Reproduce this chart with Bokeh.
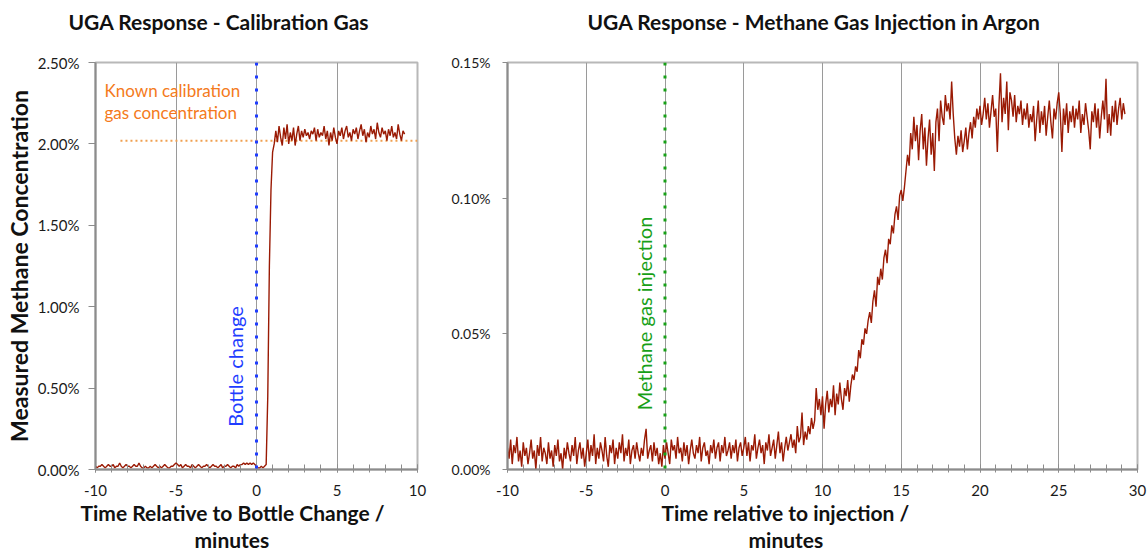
import numpy as np
from bokeh.plotting import figure
from bokeh.layouts import row
from bokeh.models import Label, Span, FixedTicker, PrintfTickFormatter, Range1d, Title
from bokeh.embed import file_html
from bokeh.resources import INLINE

# ---------------- data: left panel (calibration gas) ----------------
cal_t_start = -10.0
cal_t_step = 0.1
cal_values = [
    0.02, 0.01, 0.02, 0.02, 0.03, 0.02, 0.01, 0.02, 0.03, 0.02,
    0.02, 0.03, 0.01, 0.02, 0.02, 0.04, 0.02, 0.01, 0.02, 0.03,
    0.02, 0.02, 0.01, 0.02, 0.03, 0.02, 0.02, 0.04, 0.02, 0.01,
    0.01, 0.02, 0.01, 0.01, 0.02, 0.01, 0.02, 0.03, 0.02, 0.01,
    0.02, 0.01, 0.02, 0.03, 0.02, 0.01, 0.01, 0.02, 0.02, 0.03,
    0.04, 0.03, 0.02, 0.03, 0.01, 0.02, 0.03, 0.02, 0.02, 0.01,
    0.03, 0.02, 0.01, 0.02, 0.03, 0.02, 0.01, 0.02, 0.02, 0.03,
    0.02, 0.01, 0.02, 0.03, 0.02, 0.02, 0.01, 0.02, 0.03, 0.01,
    0.02, 0.02, 0.03, 0.02, 0.01, 0.02, 0.02, 0.01, 0.03, 0.02,
    0.03, 0.03, 0.04, 0.03, 0.04, 0.03, 0.04, 0.03, 0.04, 0.03,
    0.02, 0.01, 0.01, 0.02, 0.01, 0.02,
    0.03, 0.45, 1.25, 1.72, 1.95, 2.00,
    2.08, 2.01, 2.11, 2.04, 1.99, 2.10, 2.03, 2.12, 2.00, 2.07,
    2.02, 2.10, 1.99, 2.06, 2.11, 2.02, 2.08, 2.04, 2.09, 2.05,
    2.07, 2.03, 2.08, 2.06, 2.10, 2.02, 2.09, 2.04, 2.07, 2.05,
    2.11, 2.03, 2.08, 1.99, 2.07, 2.02, 2.10, 2.04, 2.00, 2.08,
    2.05, 2.10, 2.03, 2.08, 2.11, 2.04, 2.07, 2.02, 2.09, 2.06,
    2.10, 2.03, 2.08, 2.12, 2.05, 2.09, 2.01, 2.07, 2.04, 2.11,
    2.06, 2.09, 2.03, 2.13, 2.07, 2.04, 2.10, 2.06, 2.08, 2.02,
    2.09, 2.05, 2.11, 2.04, 2.07, 2.03, 2.12, 2.06, 2.02, 2.08,
    2.06,
]
bottle_change_time = 0.0
known_concentration = 2.02
known_line_x = [-8.45, 10.0]

# ---------------- data: right panel (methane injection) ----------------
inj_t_start = -10.0
inj_t_step = 0.1
inj_values = [
    0.008, 0.004, 0.011, 0.002, 0.009, 0.006, 0.012, 0.003, 0.007, 0.001,
    0.010, 0.005, 0.008, 0.002, 0.006, 0.011, 0.004, 0.007, 0.000, 0.009,
    0.005, 0.012, 0.003, 0.008, 0.006, 0.002, 0.010, 0.004, 0.007, 0.001,
    0.009, 0.005, 0.011, 0.003, 0.006, 0.000, 0.008, 0.004, 0.010, 0.006,
    0.003, 0.009, 0.005, 0.012, 0.002, 0.007, 0.010, 0.004, 0.008, 0.001,
    0.006, 0.011, 0.003, 0.009, 0.005, 0.013, 0.002, 0.008, 0.004, 0.010,
    0.007, 0.003, 0.012, 0.005, 0.001, 0.009, 0.006, 0.011, 0.002, 0.008,
    0.004, 0.010, 0.006, 0.013, 0.003, 0.008, 0.005, 0.011, 0.002, 0.007,
    0.009, 0.004, 0.010, 0.006, 0.003, 0.008, 0.005, 0.011, 0.015, 0.004,
    0.007, 0.009, 0.003, 0.010, 0.005, 0.008, 0.002, 0.006, 0.001, 0.009,
    0.004, 0.010, 0.006, 0.002, 0.011, 0.007, 0.009, 0.004, 0.012, 0.006,
    0.008, 0.003, 0.010, 0.005, 0.009, 0.002, 0.007, 0.011, 0.006, 0.004,
    0.009, 0.006, 0.012, 0.003, 0.008, 0.010, 0.005, 0.007, 0.002, 0.009,
    0.006, 0.011, 0.004, 0.008, 0.010, 0.003, 0.009, 0.006, 0.012, 0.005,
    0.007, 0.010, 0.004, 0.009, 0.006, 0.011, 0.003, 0.008, 0.010, 0.005,
    0.008, 0.012, 0.005, 0.010, 0.003, 0.009, 0.007, 0.013, 0.004, 0.008,
    0.011, 0.006, 0.009, 0.002, 0.010, 0.007, 0.013, 0.005, 0.008, 0.011,
    0.004, 0.009, 0.014, 0.006, 0.010, 0.003, 0.008, 0.012, 0.007, 0.010,
    0.013, 0.008, 0.011, 0.006, 0.016, 0.010, 0.012, 0.021, 0.009, 0.014,
    0.011, 0.016, 0.013, 0.019, 0.015, 0.018, 0.030, 0.022, 0.026, 0.020,
    0.027, 0.015, 0.024, 0.029, 0.021, 0.026, 0.023, 0.031, 0.020, 0.028,
    0.024, 0.032, 0.026, 0.022, 0.030, 0.027, 0.033, 0.025, 0.031, 0.035,
    0.033, 0.038, 0.036, 0.044, 0.041, 0.048, 0.046, 0.052, 0.050, 0.055,
    0.058, 0.054, 0.062, 0.066, 0.060, 0.071, 0.068, 0.074, 0.070, 0.078,
    0.081, 0.076, 0.085, 0.083, 0.090, 0.087, 0.094, 0.097, 0.092, 0.101,
    0.103, 0.099, 0.104, 0.110, 0.116, 0.112, 0.124, 0.118, 0.130, 0.121,
    0.127, 0.114, 0.125, 0.131, 0.118, 0.126, 0.112, 0.122, 0.129, 0.116,
    0.124, 0.110, 0.128, 0.133, 0.121, 0.136, 0.130, 0.127, 0.138, 0.132,
    0.135, 0.129, 0.143, 0.131, 0.122, 0.116, 0.123, 0.119, 0.125, 0.117,
    0.121, 0.126, 0.118, 0.124, 0.128, 0.122, 0.130, 0.126, 0.133, 0.129,
    0.134, 0.127, 0.131, 0.137, 0.129, 0.135, 0.126, 0.132, 0.138, 0.130,
    0.133, 0.117, 0.134, 0.146, 0.128, 0.137, 0.131, 0.143, 0.125, 0.139,
    0.136, 0.130, 0.138, 0.128, 0.134, 0.131, 0.136, 0.127, 0.133, 0.129,
    0.135, 0.126, 0.131, 0.128, 0.134, 0.121, 0.129, 0.136, 0.124, 0.132,
    0.127, 0.134, 0.123, 0.130, 0.136, 0.128, 0.122, 0.133, 0.129, 0.135,
    0.139, 0.131, 0.117, 0.133, 0.127, 0.135, 0.124, 0.132, 0.128, 0.134,
    0.126, 0.133, 0.129, 0.136, 0.124, 0.131, 0.127, 0.135, 0.130, 0.125,
    0.118, 0.132, 0.128, 0.135, 0.126, 0.133, 0.122, 0.130, 0.136, 0.129,
    0.144, 0.124, 0.131, 0.123, 0.134, 0.128, 0.136, 0.127, 0.133, 0.137,
    0.129, 0.135, 0.131,
]
injection_time = 0.0

left_x_ticks = [-10, -5, 0, 5, 10]
left_x_minor = list(range(-10, 11))
left_y_ticks = [0.0, 0.5, 1.0, 1.5, 2.0, 2.5]
right_x_ticks = [-10, -5, 0, 5, 10, 15, 20, 25, 30]
right_x_minor = list(range(-10, 31))
right_y_ticks = [0.0, 0.05, 0.10, 0.15]

cal_time = np.round(cal_t_start + cal_t_step * np.arange(len(cal_values)), 2)
inj_time = np.round(inj_t_start + inj_t_step * np.arange(len(inj_values)), 2)

FONT = "Lato"
LINE_COLOR = "#9a1a04"
AXIS_COLOR = "#8c8c8c"
GRID_COLOR = "#9a9a9a"
OUTLINE_COLOR = "#b8b8b8"
TEXT_COLOR = "#111111"


def style(p, xt, xminor, yt, ytick_size, xtick_size):
    p.xaxis.ticker = FixedTicker(ticks=xt, minor_ticks=xminor)
    p.xaxis.formatter = PrintfTickFormatter(format="%d")
    p.yaxis.ticker = FixedTicker(ticks=yt, minor_ticks=[])
    p.yaxis.formatter = PrintfTickFormatter(format="%.2f%%")
    p.xgrid.ticker = FixedTicker(ticks=xt)
    p.xgrid.grid_line_color = GRID_COLOR
    p.xgrid.grid_line_width = 1
    p.ygrid.grid_line_color = None
    for ax in (p.xaxis[0], p.yaxis[0]):
        ax.axis_line_color = AXIS_COLOR
        ax.axis_line_width = 2
        ax.major_tick_line_color = AXIS_COLOR
        ax.minor_tick_line_color = AXIS_COLOR
        ax.major_label_text_font = FONT
        ax.major_label_text_color = "#1a1a1a"
    p.xaxis.major_tick_in = 5
    p.xaxis.major_tick_out = 3
    p.xaxis.minor_tick_in = 5
    p.xaxis.minor_tick_out = 3
    p.xaxis.major_label_standoff = 12
    p.xaxis.major_label_text_font_size = xtick_size
    p.yaxis.major_tick_in = 0
    p.yaxis.major_tick_out = 7
    p.yaxis.minor_tick_in = 0
    p.yaxis.minor_tick_out = 0
    p.yaxis.major_label_standoff = 9
    p.yaxis.major_label_text_font_size = ytick_size
    p.outline_line_color = OUTLINE_COLOR
    p.outline_line_width = 2
    p.background_fill_color = "white"
    p.border_fill_color = "white"


def add_titles(p, title, title_offset, xl1, xl1_offset, xl2, xl2_offset):
    p.title.text = ""
    # blank spacer title between the frame and the real title
    p.add_layout(Title(text=" ", standoff=24, text_font_size="2px", text_color="white"), "above")
    p.add_layout(Title(text=title, align="left", offset=title_offset, vertical_align="middle",
                       standoff=0, text_font=FONT, text_font_style="bold",
                       text_font_size="21px", text_color=TEXT_COLOR), "above")
    for txt, off in ((xl1, xl1_offset), (xl2, xl2_offset)):
        p.add_layout(Title(text=txt, align="left", offset=off, vertical_align="middle",
                           standoff=0, text_font=FONT, text_font_style="bold",
                           text_font_size="21px", text_color=TEXT_COLOR), "below")


# ---------------- left figure ----------------
p1 = figure(width=448, height=552, x_range=Range1d(-10, 10), y_range=Range1d(0, 2.5),
            output_backend="svg", toolbar_location=None,
            min_border_left=95, min_border_right=31, min_border_top=62, min_border_bottom=83)
style(p1, left_x_ticks, left_x_minor, left_y_ticks, "15px", "15px")
p1.yaxis.axis_label = "Measured Methane Concentration"
p1.yaxis.axis_label_text_font = FONT
p1.yaxis.axis_label_text_font_style = "bold"
p1.yaxis.axis_label_text_font_size = "23px"
p1.yaxis.axis_label_text_color = TEXT_COLOR
p1.yaxis.axis_label_standoff = 2
add_titles(p1, "UGA Response - Calibration Gas", -27,
           "Time Relative to Bottle Change /", -15, "minutes", 99)

p1.line(x=known_line_x, y=[known_concentration, known_concentration],
        line_color="#f0a050", line_width=2, line_dash="2 3")
p1.line(x=cal_time, y=cal_values, line_color=LINE_COLOR, line_width=1.4)
p1.add_layout(Span(location=bottle_change_time, dimension="height", line_color="#1f3dff",
                   line_width=3, line_dash="3 10"))

p1.add_layout(Label(x=-9.44, y=2.328, text="Known calibration", text_font=FONT,
                    text_font_size="17px", text_align="left", text_baseline="middle",
                    text_color="#f47a20"))
p1.add_layout(Label(x=-9.44, y=2.193, text="gas concentration", text_font=FONT,
                    text_font_size="17px", text_align="left", text_baseline="middle",
                    text_color="#f47a20"))
p1.add_layout(Label(x=-1.35, y=0.633, text="Bottle change", text_font=FONT,
                    text_font_size="20px", text_align="center", text_baseline="middle",
                    angle=np.pi / 2, text_color="#1f3dff"))

# ---------------- right figure ----------------
p2 = figure(width=700, height=552, x_range=Range1d(-10, 30), y_range=Range1d(0, 0.15),
            output_backend="svg", toolbar_location=None,
            min_border_left=58, min_border_right=11, min_border_top=62, min_border_bottom=83)
style(p2, right_x_ticks, right_x_minor, right_y_ticks, "14px", "15px")
p2.yaxis.major_tick_out = 5
p2.yaxis.major_label_standoff = 12
add_titles(p2, "UGA Response - Methane Gas Injection in Argon", 80,
           "Time relative to injection /", 154, "minutes", 241)

p2.line(x=inj_time, y=inj_values, line_color=LINE_COLOR, line_width=1.4)
p2.add_layout(Span(location=injection_time, dimension="height", line_color="#17a017",
                   line_width=3, line_dash="3 10"))
p2.add_layout(Label(x=-1.35, y=0.0575, text="Methane gas injection", text_font=FONT,
                    text_font_size="20px", text_align="center", text_baseline="middle",
                    angle=np.pi / 2, text_color="#17a017"))

layout = row(p1, p2)
open("out.html", "w").write(file_html(layout, INLINE))
